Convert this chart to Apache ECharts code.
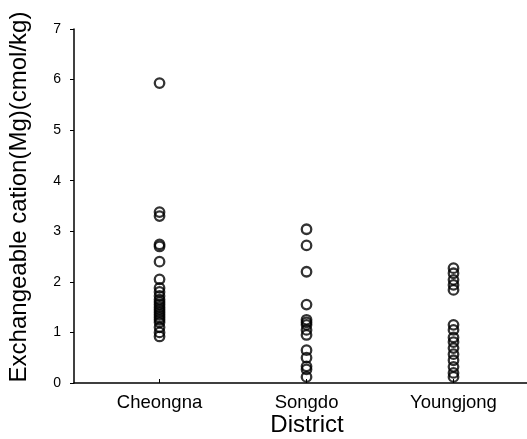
<!DOCTYPE html>
<html><head><meta charset="utf-8">
<script src="https://cdn.jsdelivr.net/npm/echarts@6/dist/echarts.min.js"></script>
<style>html,body{margin:0;padding:0;background:#fff}#c{width:527px;height:439px}</style>
</head><body><div id="c"></div>
<script>
const categories = ['Cheongna', 'Songdo', 'Youngjong'];
const yTicks = [0, 1, 2, 3, 4, 5, 6, 7];
const cheongna = [5.93, 3.38, 3.30, 2.74, 2.70, 2.40, 2.05, 1.88, 1.80, 1.72, 1.65, 1.60, 1.55, 1.50, 1.45, 1.40, 1.35, 1.30, 1.25, 1.20, 1.10, 1.00, 0.92];
const songdo = [3.04, 2.72, 2.20, 1.55, 1.25, 1.20, 1.15, 1.05, 0.95, 0.65, 0.50, 0.33, 0.27, 0.12];
const youngjong = [2.27, 2.17, 2.04, 1.94, 1.84, 1.15, 1.05, 0.90, 0.81, 0.69, 0.57, 0.45, 0.32, 0.20, 0.12];

const groups = [cheongna, songdo, youngjong];
const points = [];
groups.forEach((arr, i) => arr.forEach(v => points.push([i + 1, v])));

const chart = echarts.init(document.getElementById('c'), null, {renderer: 'canvas'});
const font = 'Liberation Sans, Arial, Helvetica, sans-serif';
chart.setOption({
  animation: false,
  backgroundColor: '#fff',
  grid: {left: 74, right: 0, top: 29, bottom: 56, containLabel: false},
  xAxis: {
    type: 'value', min: 0.418, max: 3.5,
    axisLine: {show: true, lineStyle: {color: '#000', width: 1.5}},
    axisTick: {show: true, inside: true, length: 4, customValues: [1, 2, 3], lineStyle: {color: '#000'}},
    axisLabel: {show: true, customValues: [1, 2, 3], formatter: v => categories[Math.round(v) - 1] || '',
      color: '#000', fontSize: 18.5, fontFamily: font, margin: 10},
    splitLine: {show: false}
  },
  yAxis: {
    type: 'value', min: 0, max: 7, interval: 1,
    axisLine: {show: true, lineStyle: {color: '#000', width: 1.5}},
    axisTick: {show: true, inside: false, length: 4, lineStyle: {color: '#000'}},
    axisLabel: {color: '#000', fontSize: 14, fontFamily: font, margin: 13,
      formatter: v => yTicks.includes(v) ? String(v) : ''},
    splitLine: {show: false}
  },
  graphic: [
    {type: 'text', x: 307, y: 425, style: {text: 'District', fontSize: 24, fontFamily: font, fill: '#000', align: 'center', verticalAlign: 'middle'}},
    {type: 'text', rotation: Math.PI / 2, x: 19, y: 197, style: {text: 'Exchangeable cation(Mg)(cmol/kg)', fontSize: 24, fontFamily: font, fill: '#000', align: 'center', verticalAlign: 'middle'}}
  ],
  series: [{
    type: 'scatter', data: points, symbol: 'circle', symbolSize: 9.5,
    itemStyle: {color: 'rgba(255,255,255,0)', borderColor: '#000', borderWidth: 2.3}
  }]
});
</script></body></html>
